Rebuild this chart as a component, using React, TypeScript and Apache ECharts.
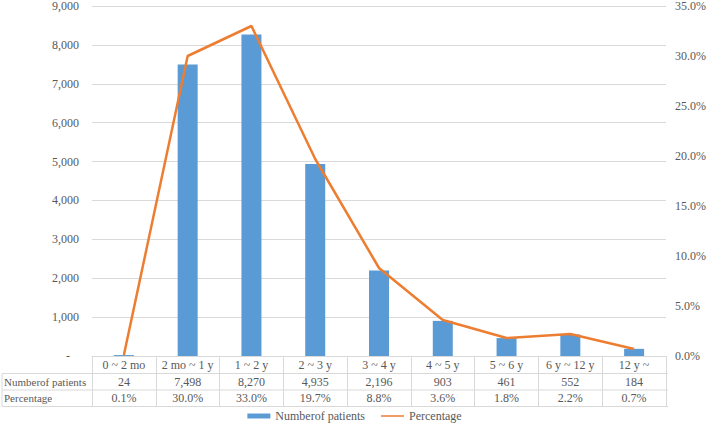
import React, { useEffect, useRef } from "react";
import * as echarts from "echarts";

const categories = ["0 ~ 2 mo", "2 mo ~ 1 y", "1 ~ 2 y", "2 ~ 3 y", "3 ~ 4 y", "4 ~ 5 y", "5 ~ 6 y", "6 y ~ 12 y", "12 y ~"];
const patients = [24, 7498, 8270, 4935, 2196, 903, 461, 552, 184];
const percentage = [0.1, 30.0, 33.0, 19.7, 8.8, 3.6, 1.8, 2.2, 0.7];
const rowHeaders = ["Numberof patients", "Percentage"];

const FONT = "Times New Roman, Liberation Serif, DejaVu Serif, Noto Serif, serif";
const TXT = "#595959";
const LINE = "#d9d9d9";

const GRID_L = 92;
const GRID_R = 41;
const GRID_T = 5;
const GRID_B = 73;
const W = 709;
const H = 429;
const ROW_H = 16.5;

export default function App() {
  const ref = useRef<HTMLDivElement>(null);
  useEffect(() => {
    if (!ref.current) return;
    const chart = echarts.init(ref.current, undefined, { renderer: "svg" });
    const fmt = (n: number) => n.toLocaleString("en-US");
    const bottomY = H - GRID_B;
    const rightX = W - GRID_R;
    const graphics: any[] = [];
    for (let r = 1; r <= 3; r++) {
      const y = bottomY + 1 + r * ROW_H;
      graphics.push({
        type: "line",
        shape: { x1: 2, y1: y, x2: rightX, y2: y },
        style: { stroke: LINE, lineWidth: 1 },
      });
    }
    graphics.push({
      type: "line",
      shape: { x1: 2, y1: bottomY + 1 + ROW_H, x2: 2, y2: bottomY + 1 + 3 * ROW_H },
      style: { stroke: LINE, lineWidth: 1 },
    });
    rowHeaders.forEach((h, i) => {
      graphics.push({
        type: "text",
        x: 4,
        y: bottomY + 1 + (i + 1.5) * ROW_H,
        style: { text: h, fill: TXT, fontFamily: FONT, fontSize: 11, verticalAlign: "middle" },
      });
    });

    chart.setOption({
      animation: false,
      textStyle: { fontFamily: FONT, color: TXT },
      grid: { left: GRID_L, right: GRID_R, top: GRID_T, bottom: GRID_B },
      legend: {
        bottom: 2,
        left: "center",
        itemWidth: 23,
        itemHeight: 5,
        itemGap: 16,
        textStyle: { fontFamily: FONT, fontSize: 12, color: TXT },
        data: [
          { name: "Numberof patients", icon: "rect" },
          { name: "Percentage", icon: "path://M0,0L0.01,0M0,1.6H25V3.4H0ZM0,5L0.01,5" },
        ],
      },
      xAxis: {
        type: "category",
        data: categories,
        axisLine: { lineStyle: { color: LINE } },
        axisTick: { show: true, length: 3 * ROW_H + 1, lineStyle: { color: LINE } },
        axisLabel: {
          interval: 0,
          margin: 1,
          fontFamily: FONT,
          fontSize: 12,
          color: TXT,
          lineHeight: ROW_H,
          formatter: (v: string, i: number) => `${v}\n${fmt(patients[i])}\n${percentage[i].toFixed(1)}%`,
        },
      },
      yAxis: [
        {
          type: "value",
          min: 0,
          max: 9000,
          interval: 1000,
          axisLine: { show: false },
          axisTick: { show: false },
          splitLine: { lineStyle: { color: LINE } },
          axisLabel: {
            margin: 13,
            fontFamily: FONT,
            fontSize: 12,
            color: TXT,
            formatter: (v: number) => (v === 0 ? "-   " : fmt(v)),
          },
        },
        {
          type: "value",
          min: 0,
          max: 35,
          interval: 5,
          axisLine: { show: false },
          axisTick: { show: false },
          splitLine: { show: false },
          axisLabel: {
            margin: 9,
            fontFamily: FONT,
            fontSize: 12,
            color: TXT,
            formatter: (v: number) => `${v.toFixed(1)}%`,
          },
        },
      ],
      series: [
        {
          name: "Numberof patients",
          type: "bar",
          data: patients,
          barWidth: 20,
          itemStyle: { color: "#5B9BD5" },
          yAxisIndex: 0,
        },
        {
          name: "Percentage",
          type: "line",
          data: percentage,
          yAxisIndex: 1,
          symbol: "none",
          lineStyle: { color: "#ED7D31", width: 2.5 },
          itemStyle: { color: "#ED7D31" },
        },
      ],
      graphic: graphics,
    });
    return () => chart.dispose();
  }, []);
  return <div ref={ref} style={{ width: W, height: H, position: "absolute", left: 0, top: 0 }} />;
}
